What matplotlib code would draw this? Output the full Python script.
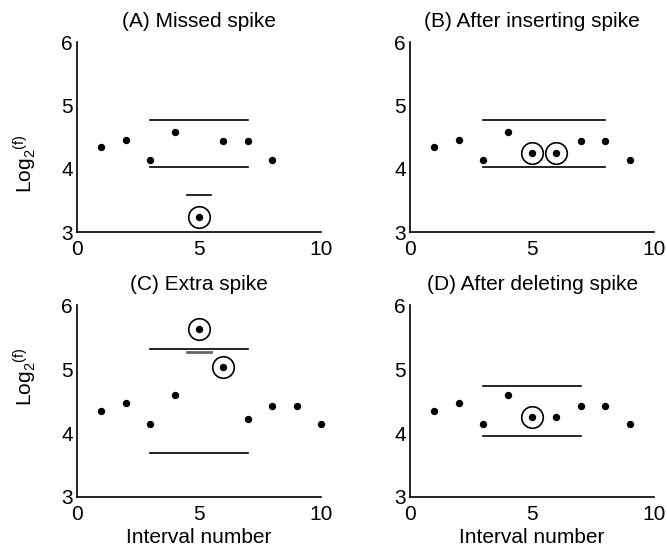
import numpy as np
import matplotlib.pyplot as plt

plt.rcParams["font.family"] = ["Liberation Sans", "DejaVu Sans"]
plt.rcParams["mathtext.default"] = "regular"

# Panel data: interval number -> log2 frequency
xa = [1, 2, 3, 4, 5, 6, 7, 8]
ya = [4.34, 4.46, 4.13, 4.58, 3.23, 4.43, 4.43, 4.13]
xb = [1, 2, 3, 4, 5, 6, 7, 8, 9]
yb = [4.34, 4.46, 4.13, 4.58, 4.24, 4.24, 4.43, 4.43, 4.13]
xc = [1, 2, 3, 4, 5, 6, 7, 8, 9, 10]
yc = [4.35, 4.47, 4.14, 4.59, 5.62, 5.04, 4.22, 4.43, 4.43, 4.14]
xd = [1, 2, 3, 4, 5, 6, 7, 8, 9]
yd = [4.35, 4.47, 4.14, 4.59, 4.25, 4.25, 4.43, 4.43, 4.14]

circled = {"A": [5], "B": [5, 6], "C": [5, 6], "D": [5]}
# bounds: (x0, x1, lower, upper)
bounds = {"A": (3, 7, 4.03, 4.77), "B": (3, 8, 4.03, 4.77),
          "C": (3, 7, 3.69, 5.31), "D": (3, 7, 3.96, 4.74)}
titles = {"A": "(A) Missed spike", "B": "(B) After inserting spike",
          "C": "(C) Extra spike", "D": "(D) After deleting spike"}
data = {"A": (xa, ya), "B": (xb, yb), "C": (xc, yc), "D": (xd, yd)}
rects = {"A": [0.1154, 0.5766, 0.366, 0.3467],
         "B": [0.6147, 0.5766, 0.366, 0.3467],
         "C": [0.1154, 0.0931, 0.366, 0.350],
         "D": [0.6147, 0.0931, 0.366, 0.350]}
ylabel_y = {"A": 0.36, "C": 0.63}

fig = plt.figure(figsize=(6.67, 5.48), dpi=100)

for key in "ABCD":
    ax = fig.add_axes(rects[key])
    x, y = np.array(data[key][0]), np.array(data[key][1])
    ax.plot(x, y, "o", color="black", markersize=4.3, clip_on=False)
    for xi in circled[key]:
        ax.plot(xi, y[x == xi], "o", mfc="none", mec="black",
                markersize=15.5, mew=1.2)
    x0, x1, lo, hi = bounds[key]
    ax.plot([x0, x1], [hi, hi], color="black", lw=1.2)
    ax.plot([x0, x1], [lo, lo], color="black", lw=1.2)
    if key == "A":
        ax.plot([4.5, 5.5], [3.58, 3.58], color="black", lw=1.2)
    if key == "C":
        ax.plot([4.5, 5.5], [5.27, 5.27], color="#666666", lw=2)

    ax.set_xlim(0, 10)
    ax.set_ylim(3, 6)
    ax.set_xticks([0, 5, 10])
    ax.set_yticks([3, 4, 5, 6])
    ax.tick_params(length=0, labelsize=15)
    ax.tick_params(axis="x", pad=6)
    ax.tick_params(axis="y", pad=3)
    for s in ["top", "right"]:
        ax.spines[s].set_visible(False)
    for s in ["left", "bottom"]:
        ax.spines[s].set_linewidth(1.2)
    ax.set_title(titles[key], fontsize=15, pad=11)
    if key in "AC":
        ax.set_ylabel("Log$_2{}^{(f)}$", fontsize=15)
        ax.yaxis.set_label_coords(-0.155, ylabel_y[key])
    if key in "CD":
        ax.set_xlabel("Interval number", fontsize=15, labelpad=3)

fig.savefig("out.png", dpi=100)
